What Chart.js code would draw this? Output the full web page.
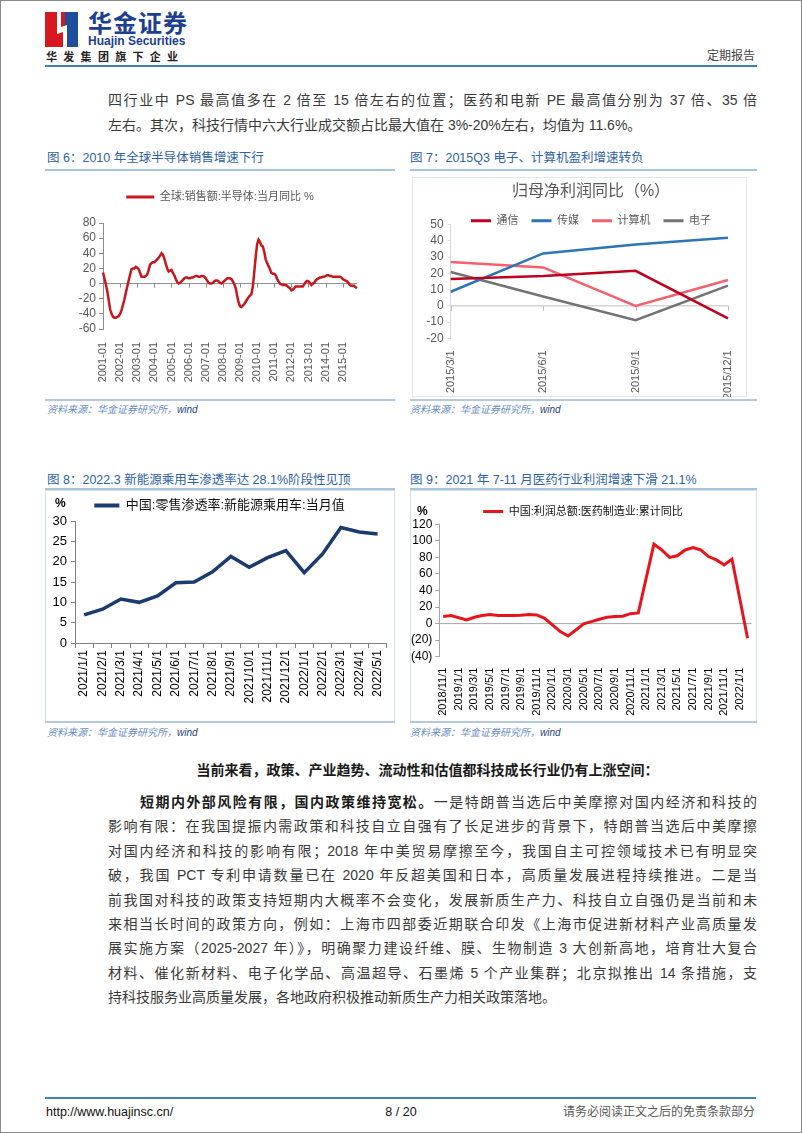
<!DOCTYPE html>
<html lang="zh-CN">
<head>
<meta charset="utf-8">
<title>华金证券 定期报告 8/20</title>
<script src="https://cdn.jsdelivr.net/npm/chart.js@4.4.1/dist/chart.umd.min.js"></script>
<style>
  html, body { margin: 0; padding: 0; }
  body {
    width: 802px; height: 1133px; position: relative; overflow: hidden; background: #fff;
    font-family: "Liberation Sans", Arial, "Noto Sans CJK SC", sans-serif; color: #3a3a3a;
  }
  .frame { position: absolute; left: 0; top: 0; width: 800px; height: 1131px; border: 1px solid #8a8a8a; }
  .abs { position: absolute; white-space: nowrap; }
  .bar { position: absolute; }
  .ln { position: absolute; left: 108px; width: 649px; font-size: 14px; line-height: 20px; color: #3a3a3a; }
  .j { text-align: justify; text-align-last: justify; }
  .cap { position: absolute; font-size: 12.5px; line-height: 16px; color: #2d62a3; white-space: nowrap; }
  .src { position: absolute; font-size: 10px; line-height: 14px; color: #6b8cbf; font-style: italic; white-space: nowrap; }
  .src b { color: #1f3f7a; font-weight: normal; }
  .box { position: absolute; border: 1px solid #d6e0ea; box-sizing: border-box; }
  canvas { position: absolute; }
</style>
</head>
<body>
<div class="frame"></div>

<!-- header -->
<svg class="abs" style="left:45px;top:12px" width="33" height="35" viewBox="0 0 33 35">
  <rect x="0" y="0" width="20" height="35" fill="#d7191f"/>
  <rect x="20" y="0" width="13" height="35" fill="#1f4e9c"/>
  <polygon points="12,0 16,0 16,15 22,13 22,35 18,35 18,20 12,22" fill="#fff"/>
</svg>
<div class="abs" style="left:88px;top:8px;font-size:24px;line-height:28px;font-weight:bold;color:#1d3f8f;font-family:'Noto Sans CJK SC',sans-serif;letter-spacing:1px">华金证券</div>
<div class="abs" style="left:88px;top:34px;font-size:12px;line-height:14px;font-weight:bold;color:#1d3f8f">Huajin Securities</div>
<div class="abs" style="left:46px;top:50px;font-size:11px;line-height:14px;font-weight:bold;color:#222;letter-spacing:6.3px">华发集团旗下企业</div>
<div class="abs" style="left:695px;top:49px;width:60px;text-align:right;font-size:12px;line-height:14px;color:#444">定期报告</div>
<div class="bar" style="left:45px;top:65px;width:712px;height:2px;background:#3f83b6"></div>

<!-- top text -->
<div class="ln j" style="top:90px">四行业中 PS 最高值多在 2 倍至 15 倍左右的位置；医药和电新 PE 最高值分别为 37 倍、35 倍</div>
<div class="ln" style="top:115px">左右。其次，科技行情中六大行业成交额占比最大值在 3%-20%左右，均值为 11.6%。</div>

<!-- row 1 -->
<div class="cap" style="left:47px;top:150px">图 6：2010 年全球半导体销售增速下行</div>
<div class="cap" style="left:410px;top:150px">图 7：2015Q3 电子、计算机盈利增速转负</div>
<div class="bar" style="left:45px;top:169px;width:350px;height:2px;background:#a7c4df"></div>
<div class="bar" style="left:410px;top:169px;width:347px;height:2px;background:#a7c4df"></div>
<div class="box" style="left:412px;top:177px;width:335px;height:220px;border-color:#e3e8ee"></div>
<canvas id="chartSemi" width="350" height="222" style="left:45px;top:175px"></canvas>
<canvas id="chartProfit" width="358" height="220" style="left:412px;top:177px"></canvas>
<div class="bar" style="left:45px;top:399px;width:350px;height:2px;background:#b5c9dc"></div>
<div class="bar" style="left:410px;top:399px;width:347px;height:2px;background:#b5c9dc"></div>
<div class="src" style="left:47px;top:403px">资料来源：华金证券研究所，<b>wind</b></div>
<div class="src" style="left:410px;top:403px">资料来源：华金证券研究所，<b>wind</b></div>

<!-- row 2 -->
<div class="cap" style="left:47px;top:472px">图 8：2022.3 新能源乘用车渗透率达 28.1%阶段性见顶</div>
<div class="cap" style="left:410px;top:472px">图 9：2021 年 7-11 月医药行业利润增速下滑 21.1%</div>
<div class="bar" style="left:45px;top:488px;width:350px;height:2px;background:#a7c4df"></div>
<div class="bar" style="left:410px;top:488px;width:347px;height:2px;background:#a7c4df"></div>
<div class="box" style="left:45px;top:490px;width:350px;height:232px"></div>
<div class="box" style="left:410px;top:490px;width:347px;height:232px"></div>
<canvas id="chartNev" width="348" height="230" style="left:46px;top:491px"></canvas>
<canvas id="chartPharma" width="345" height="230" style="left:411px;top:491px"></canvas>
<div class="bar" style="left:45px;top:721px;width:350px;height:2px;background:#b5c9dc"></div>
<div class="bar" style="left:410px;top:721px;width:347px;height:2px;background:#b5c9dc"></div>
<div class="src" style="left:47px;top:726px">资料来源：华金证券研究所，<b>wind</b></div>
<div class="src" style="left:410px;top:726px">资料来源：华金证券研究所，<b>wind</b></div>

<!-- lower text -->
<div class="ln" style="top:760px;width:639px;text-align:center;font-weight:bold;color:#1a1a1a">当前来看，政策、产业趋势、流动性和估值都科技成长行业仍有上涨空间：</div>
<div class="ln j" style="top:792px;left:140px;width:617px"><b style="color:#1a1a1a">短期内外部风险有限，国内政策维持宽松。</b>一是特朗普当选后中美摩擦对国内经济和科技的</div>
<div class="ln j" style="top:816px">影响有限：在我国提振内需政策和科技自立自强有了长足进步的背景下，特朗普当选后中美摩擦</div>
<div class="ln j" style="top:841px">对国内经济和科技的影响有限；2018 年中美贸易摩擦至今，我国自主可控领域技术已有明显突</div>
<div class="ln j" style="top:865px">破，我国 PCT 专利申请数量已在 2020 年反超美国和日本，高质量发展进程持续推进。二是当</div>
<div class="ln j" style="top:890px">前我国对科技的政策支持短期内大概率不会变化，发展新质生产力、科技自立自强仍是当前和未</div>
<div class="ln j" style="top:914px">来相当长时间的政策方向，例如：上海市四部委近期联合印发《上海市促进新材料产业高质量发</div>
<div class="ln j" style="top:938px">展实施方案（2025-2027 年）》，明确聚力建设纤维、膜、生物制造 3 大创新高地，培育壮大复合</div>
<div class="ln j" style="top:963px">材料、催化新材料、电子化学品、高温超导、石墨烯 5 个产业集群；北京拟推出 14 条措施，支</div>
<div class="ln" style="top:987px">持科技服务业高质量发展，各地政府积极推动新质生产力相关政策落地。</div>

<!-- footer -->
<div class="bar" style="left:45px;top:1097px;width:711px;height:2px;background:#3f83b6"></div>
<div class="abs" style="left:46px;top:1104px;font-size:12.5px;line-height:16px;color:#111">http://www.huajinsc.cn/</div>
<div class="abs" style="left:361px;top:1104px;width:80px;text-align:center;font-size:12.5px;line-height:16px;color:#111">8 / 20</div>
<div class="abs" style="left:555px;top:1104px;width:200px;text-align:right;font-size:12px;line-height:16px;color:#595959">请务必阅读正文之后的免责条款部分</div>

<script>
// ---- data ----
// Fig 6: global semiconductor sales, monthly YoY %, 2001-01 .. 2015-11
const semiYoY = [
    14.6, 7, -1, -10, -22, -34, -40, -44, -45, -45, -44, -43,   // 2001
    -40, -35, -28, -21, -12, -4, 4, 12, 19, 20, 20, 22,         // 2002
    21, 19, 14, 9, 9, 9, 10, 12, 18, 25, 27, 28,                // 2003
    28, 30, 32, 34, 37, 40, 38, 33, 26, 20, 16, 17,             // 2004
    18, 14, 11, 6, 2, 0, 1, 3, 5, 7, 8, 8,                      // 2005
    7, 7, 8, 8, 9, 10, 10, 9, 9, 10, 10, 9,                     // 2006
    7, 4, 1, 0, 0, 1, 3, 4, 4, 3, 1, 0,                         // 2007
    2, 3.5, 5, 7, 7, 7, 6, 3, -1, -6, -16, -25,                 // 2008
    -30, -31, -29, -27, -24, -21, -18, -16, -14, -4, 15, 35,    // 2009
    52, 58, 55, 50, 49, 42, 32, 27, 23, 19, 14, 13,             // 2010
    13, 11, 6, 3, 0, -1, -2, -2, -2, -3, -5, -6,                // 2011
    -9, -8, -6, -4, -4, -4, -4, -4, -4, -1, 2, 3.5,             // 2012
    3, 1, -2, 0, 1, 4, 6, 7, 8, 8, 9, 9,                        // 2013
    10, 11, 11, 10, 10, 9, 9, 9, 9, 9, 9, 8,                    // 2014
    6, 5, 4, 3, 1, -2, -3, -3, -3, -5, -6                       // 2015
];
const semiMonths = [];
for (let y = 2001; y <= 2015; y++) {
    for (let m = 1; m <= 12; m++) {
        if (semiMonths.length < semiYoY.length) semiMonths.push(y + '-' + String(m).padStart(2, '0'));
    }
}

// Fig 7: net profit YoY % by industry
const profitQuarters = ['2015/3/1', '2015/6/1', '2015/9/1', '2015/12/1'];
const telecom = [16.5, 18.4, 21.6, -7.7];
const media = [8.7, 32.3, 37.8, 42];
const computer = [27, 23.7, 0, 15.9];
const electronics = [20.9, 5.8, -8.8, 12.5];

// Fig 8: NEV retail penetration %
const nevMonths = ['2021/1/1', '2021/2/1', '2021/3/1', '2021/4/1', '2021/5/1', '2021/6/1', '2021/7/1', '2021/8/1',
    '2021/9/1', '2021/10/1', '2021/11/1', '2021/12/1', '2022/1/1', '2022/2/1', '2022/3/1', '2022/4/1', '2022/5/1'];
const nevRate = [6.9, 8.3, 10.8, 10.0, 11.6, 14.8, 15.0, 17.5, 21.3, 18.6, 21.0, 22.7, 17.3, 21.9, 28.4, 27.3, 26.8];

// Fig 9: pharma manufacturing profit, cumulative YoY % (no January prints)
const pharmaYoY = [
    8.5, 9.7,                                                        // 2018/11-12
    null, 4.4, 7.7, 9.7, 10.9, 9.7, 9.7, 9.7, 10, 10.9, 10.5, 6.4,   // 2019
    null, -9.7, -15, -7.7, -0.4, 2.4, 5.2, 7.7, 8.5, 8.9, 12, 12.9,  // 2020
    null, 96, 89, 80, 82, 89, 92, 89, 81, 77, 71, 78,                // 2021
    null, -17.7                                                      // 2022/1-2
];
const pharmaMonths = [];
for (let i = 0; i < pharmaYoY.length; i++) {
    const t = 2018 * 12 + 10 + i;
    pharmaMonths.push(Math.floor(t / 12) + '/' + (t % 12 + 1) + '/1');
}

// ---- helpers / plugins ----
Chart.defaults.font.family = '"Liberation Sans", Arial, "Noto Sans CJK SC", sans-serif';

// horizontal axis line at value 0, with short tick marks
const zeroAxis = {
    id: 'zeroAxis',
    beforeDatasetsDraw(chart, args, opts) {
        if (!opts.color) return;
        const x = chart.scales.x, y = chart.scales.y, ctx = chart.ctx;
        const y0 = y.getPixelForValue(0);
        ctx.save();
        ctx.strokeStyle = opts.color;
        ctx.lineWidth = 1;
        ctx.beginPath();
        ctx.moveTo(chart.chartArea.left, y0);
        ctx.lineTo(chart.chartArea.right, y0);
        if (opts.every) {
            for (let i = 0; i < chart.data.labels.length; i += opts.every) {
                const px = Math.round(x.getPixelForValue(i)) + 0.5;
                ctx.moveTo(px, y0);
                ctx.lineTo(px, y0 + opts.len);
            }
        }
        ctx.stroke();
        ctx.restore();
    }
};

// small unit label ("%") in the corner
const unitLabel = {
    id: 'unitLabel',
    afterDraw(chart, args, opts) {
        if (!opts.text) return;
        const ctx = chart.ctx;
        ctx.save();
        ctx.font = 'bold 12px "Liberation Sans", Arial, sans-serif';
        ctx.fillStyle = '#000';
        ctx.textBaseline = 'middle';
        ctx.fillText(opts.text, opts.x, opts.y);
        ctx.restore();
    }
};

// extra room under the legend
const legendGap = {
    id: 'legendGap',
    beforeInit(chart, args, opts) {
        if (!opts.extra || !chart.legend) return;
        const extra = opts.extra;
        const fit = chart.legend.fit;
        chart.legend.fit = function () {
            fit.bind(chart.legend)();
            this.height += extra;
        };
    }
};

Chart.register(zeroAxis, unitLabel, legendGap);

function flatLegend(chart) {
    return Chart.defaults.plugins.legend.labels.generateLabels(chart).map(l => {
        l.lineWidth = 0;
        l.fillStyle = l.strokeStyle;
        return l;
    });
}

function lineSet(label, data, color, width) {
    return {
        label: label, data: data, borderColor: color, backgroundColor: color,
        borderWidth: width, pointRadius: 0, fill: false, tension: 0
    };
}

const baseOpts = { responsive: false, animation: false, devicePixelRatio: 1 };

// ---- Fig 6 ----
new Chart(document.getElementById('chartSemi'), {
    type: 'line',
    data: { labels: semiMonths, datasets: [lineSet('全球:销售额:半导体:当月同比 %', semiYoY, '#c8161d', 2.5)] },
    options: Object.assign({}, baseOpts, {
        layout: { padding: { top: 6.5 } },
        plugins: {
            legend: { labels: { boxWidth: 28, boxHeight: 3, padding: 10, color: '#595959', font: { size: 11 }, generateLabels: flatLegend } },
            legendGap: { extra: 10.5 },
            zeroAxis: { color: '#8c8c8c', every: 12, len: 4 },
            tooltip: { enabled: false }
        },
        scales: {
            x: {
                ticks: {
                    autoSkip: false, maxRotation: 90, minRotation: 90, padding: 5, color: '#595959', font: { size: 11 },
                    callback: function (v, i) { return i % 12 === 0 ? this.getLabelForValue(v) : null; }
                },
                grid: { display: false }, border: { display: false },
                afterFit(s) { s.height = 68; }
            },
            y: {
                min: -60, max: 80,
                ticks: { stepSize: 20, autoSkip: false, color: '#595959', font: { size: 12 }, padding: 3 },
                grid: { drawOnChartArea: false, tickLength: 4, color: '#8c8c8c' },
                border: { color: '#8c8c8c' },
                afterFit(s) { s.width = 58; }
            },
            yR: {
                position: 'right', ticks: { display: false }, grid: { display: false }, border: { display: false },
                afterFit(s) { s.width = 38; }
            }
        }
    })
});

// ---- Fig 7 ----
new Chart(document.getElementById('chartProfit'), {
    type: 'line',
    data: {
        labels: profitQuarters,
        datasets: [
            lineSet('通信', telecom, '#c0001f', 2.5),
            lineSet('传媒', media, '#2e75b6', 2.5),
            lineSet('计算机', computer, '#f4606e', 2.5),
            lineSet('电子', electronics, '#737373', 2.5)
        ]
    },
    options: Object.assign({}, baseOpts, {
        plugins: {
            title: { display: true, text: '归母净利润同比（%）', color: '#595959', font: { size: 16, weight: 'normal' }, padding: { top: 5, bottom: 1 } },
            legend: { labels: { boxWidth: 20, boxHeight: 3, padding: 13, color: '#595959', font: { size: 11 }, generateLabels: flatLegend } },
            legendGap: { extra: -11.5 },
            zeroAxis: { color: '#bfbfbf', every: 1, len: 5 },
            tooltip: { enabled: false }
        },
        scales: {
            x: {
                ticks: { autoSkip: false, maxRotation: 90, minRotation: 90, padding: 4, color: '#595959', font: { size: 11 } },
                grid: { display: false }, border: { display: false },
                afterFit(s) { s.height = 58.7; }
            },
            y: {
                min: -20, max: 50,
                ticks: { stepSize: 10, autoSkip: false, color: '#595959', font: { size: 12 }, padding: 4 },
                grid: { drawOnChartArea: false, tickLength: 3, color: '#d9d9d9' },
                border: { color: '#d9d9d9' },
                afterFit(s) { s.width = 38.7; }
            },
            yR: {
                position: 'right', ticks: { display: false }, grid: { display: false }, border: { display: false },
                afterFit(s) { s.width = 42; }
            }
        }
    })
});

// ---- Fig 8 ----
new Chart(document.getElementById('chartNev'), {
    type: 'line',
    data: { labels: nevMonths, datasets: [lineSet('中国:零售渗透率:新能源乘用车:当月值', nevRate, '#1b3a6e', 3.5)] },
    options: Object.assign({}, baseOpts, {
        layout: { padding: { right: 1 } },
        plugins: {
            legend: { labels: { boxWidth: 25, boxHeight: 4, padding: 8, color: '#111', font: { size: 13 }, generateLabels: flatLegend } },
            legendGap: { extra: -1 },
            unitLabel: { text: '%', x: 9, y: 13 },
            tooltip: { enabled: false }
        },
        scales: {
            x: {
                offset: true,
                ticks: { autoSkip: false, maxRotation: 90, minRotation: 90, padding: 2, color: '#000', font: { size: 12 } },
                grid: { drawOnChartArea: false, offset: true, tickLength: 5, color: '#7f7f7f' },
                border: { color: '#7f7f7f' },
                afterFit(s) { s.height = 78; }
            },
            y: {
                min: 0, max: 30,
                ticks: { stepSize: 5, autoSkip: false, color: '#000', font: { size: 13 }, padding: 4 },
                grid: { drawOnChartArea: false, tickLength: 4, color: '#7f7f7f' },
                border: { color: '#7f7f7f' },
                afterFit(s) { s.width = 29; }
            }
        }
    })
});

// ---- Fig 9 ----
new Chart(document.getElementById('chartPharma'), {
    type: 'line',
    data: { labels: pharmaMonths, datasets: [Object.assign(lineSet('中国:利润总额:医药制造业:累计同比', pharmaYoY, '#e8141c', 3), { spanGaps: true })] },
    options: Object.assign({}, baseOpts, {
        layout: { padding: { top: 5, right: 1 } },
        plugins: {
            legend: { labels: { boxWidth: 20, boxHeight: 3, padding: 10, color: '#111', font: { size: 11 }, generateLabels: flatLegend } },
            legendGap: { extra: -2.7 },
            unitLabel: { text: '%', x: 6, y: 21 },
            zeroAxis: { color: '#a6a6a6', every: 0 },
            tooltip: { enabled: false }
        },
        scales: {
            x: {
                offset: true,
                ticks: {
                    autoSkip: false, maxRotation: 90, minRotation: 90, padding: 3, color: '#000', font: { size: 11 },
                    callback: function (v, i) { return i % 2 === 0 ? this.getLabelForValue(v) : null; }
                },
                grid: { display: false }, border: { display: false },
                afterFit(s) { s.height = 64.3; }
            },
            y: {
                min: -40, max: 120,
                ticks: {
                    stepSize: 20, autoSkip: false, color: '#000', font: { size: 12 }, padding: 3,
                    callback: v => v < 0 ? '(' + (-v) + ')' : String(v)
                },
                grid: { drawOnChartArea: false, tickLength: 4, color: '#a6a6a6' },
                border: { color: '#a6a6a6' },
                afterFit(s) { s.width = 28.3; }
            }
        }
    })
});
</script>
</body>
</html>
